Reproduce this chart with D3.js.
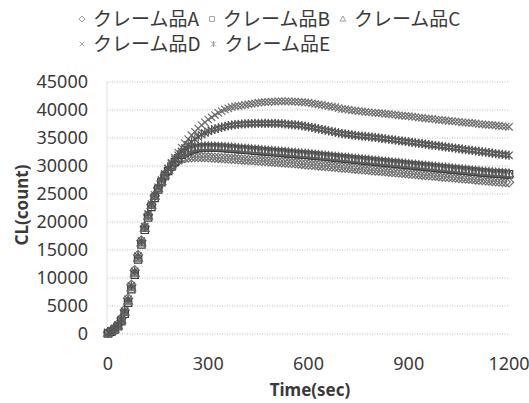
<!DOCTYPE html>
<html>
<head>
<meta charset="utf-8">
<script src="https://cdn.jsdelivr.net/npm/d3@7"></script>
<style>
  body { margin: 0; background: #fff; }
  text { font-family: "Noto Sans", "Noto Sans CJK JP", sans-serif; fill: #3a3a3a; }
</style>
</head>
<body>
<div class="canvas"></div>
<script>
// sample interval 10 sec, 0..1200
const times = d3.range(0, 1201, 10);

const seriesNames = ["クレーム品A", "クレーム品B", "クレーム品C", "クレーム品D", "クレーム品E"];

const valuesA = [
  300,600,1100,1800,2800,4300,6400,8800,11400,14100,16700,19200,21300,23100,24700,26100,27300,28300,
  29100,29800,30400,30900,31200,31400,31500,31550,31600,31600,31600,31580,31550,31520,31480,31440,31400,31360,31320,31280,31240,31200,
  31160,31120,31080,31040,31000,30960,30920,30880,30840,30800,30760,30720,30670,30620,30570,30520,30470,30420,30370,30320,30260,
  30210,30160,30100,30050,30000,29940,29890,29840,29780,29730,
  29680,29620,29570,29520,29460,29410,29360,29300,29250,29200,
  29140,29090,29040,28980,28930,28880,28820,28770,28720,28660,
  28610,28560,28500,28450,28400,28340,28290,28240,28180,28130,
  28080,28020,27970,27920,27860,27810,27760,27700,27650,27600,
  27540,27490,27440,27380,27330,27280,27220,27170,27130,27100
];
const valuesB = [
  100,400,800,1400,2300,3600,5600,8000,10600,13300,16000,18600,20800,22700,24300,25800,27100,28200,
  29100,29900,30700,31400,32000,32400,32700,32950,33100,33200,33300,33300,33300,33300,33280,33260,33230,33200,33150,33100,33050,33000,
  32950,32900,32850,32800,32750,32700,32650,32600,32550,32500,32450,32400,32350,32300,32250,32200,32150,32100,32050,32000,31950,
  31900,31850,31800,31740,31680,31620,31560,31500,31440,31380,
  31320,31260,31200,31140,31080,31020,30960,30900,30840,30780,
  30720,30660,30600,30540,30480,30420,30360,30300,30240,30180,
  30120,30060,30000,29940,29880,29820,29760,29700,29640,29580,
  29520,29460,29400,29340,29280,29220,29160,29100,29040,28980,
  28920,28860,28800,28760,28720,28680,28640,28600,28550,28500
];
const valuesC = [
  200,500,900,1500,2500,3900,5900,8300,10900,13600,16300,18900,21100,23000,24600,26000,27300,28400,
  29300,30100,30900,31600,32200,32600,32900,33150,33300,33400,33450,33480,33480,33470,33450,33420,33390,33350,33310,33270,33220,33170,
  33120,33070,33020,32970,32920,32870,32820,32770,32720,32670,32620,32570,32520,32470,32420,32370,32320,32270,32220,32170,32120,
  32060,32000,31940,31880,31820,31760,31700,31640,31580,31520,
  31460,31400,31340,31280,31220,31160,31100,31040,30980,30920,
  30860,30800,30740,30680,30620,30560,30500,30440,30380,30320,
  30260,30200,30140,30080,30020,29960,29900,29840,29780,29720,
  29660,29600,29540,29480,29420,29360,29300,29240,29180,29120,
  29060,29000,28950,28900,28850,28800,28760,28720,28680,28640
];
const valuesD = [
  200,500,900,1500,2400,3800,5800,8200,10800,13500,16200,18800,21000,22900,24500,26000,27300,28400,
  29600,30600,31500,32400,33300,34100,34800,35500,36100,36700,37300,37800,38300,38700,39100,39500,39800,40100,40300,40500,40650,40750,
  40800,40900,41000,41100,41200,41300,41350,41400,41450,41500,41500,41550,41550,41550,41550,41500,41500,41450,41400,41350,41300,
  41200,41100,41000,40900,40800,40700,40600,40500,40350,40200,
  40150,40050,39950,39900,39800,39750,39650,39600,39550,39500,
  39450,39400,39300,39250,39200,39150,39050,39000,38950,38900,
  38800,38750,38650,38600,38500,38450,38400,38300,38250,38200,
  38150,38050,38000,37950,37900,37800,37750,37700,37650,37600,
  37500,37450,37400,37350,37300,37250,37150,37100,37050,37000
];
const valuesE = [
  300,600,1000,1600,2600,4100,6200,8600,11200,13900,16600,19200,21400,23200,24800,26200,27500,28600,
  29500,30400,31200,31900,32600,33200,33800,34300,34800,35200,35600,35900,36200,36400,36600,36750,36900,37050,37200,37300,37400,37450,
  37500,37520,37550,37570,37600,37600,37600,37620,37620,37620,37600,37580,37550,37500,37450,37400,37350,37300,37200,37100,37000,
  36880,36760,36640,36520,36400,36280,36160,36040,35920,35800,
  35720,35640,35560,35480,35400,35340,35280,35220,35160,35100,
  35020,34940,34860,34780,34700,34620,34540,34460,34380,34300,
  34220,34140,34060,33980,33900,33820,33740,33660,33580,33500,
  33420,33340,33260,33180,33100,33020,32940,32860,32780,32700,
  32620,32540,32460,32380,32300,32220,32140,32060,31980,31900
];

const xTicks = [0, 300, 600, 900, 1200];
const yTicks = [0, 5000, 10000, 15000, 20000, 25000, 30000, 35000, 40000, 45000];

// marker shapes
const shapes = {
  diamond: r => `M0,${-r}L${r},0L0,${r}L${-r},0Z`,
  square: r => `M${-r*0.8},${-r*0.8}H${r*0.8}V${r*0.8}H${-r*0.8}Z`,
  triangle: r => `M0,${-r}L${r*0.95},${r*0.7}L${-r*0.95},${r*0.7}Z`,
  times: r => `M${-r*0.8},${-r*0.8}L${r*0.8},${r*0.8}M${r*0.8},${-r*0.8}L${-r*0.8},${r*0.8}`,
  asterisk: r => `M${-r*0.8},${-r*0.8}L${r*0.8},${r*0.8}M${r*0.8},${-r*0.8}L${-r*0.8},${r*0.8}M0,${-r}L0,${r}`
};

const series = [
  { name: seriesNames[0], values: valuesA, shape: "diamond", color: "#707070" },
  { name: seriesNames[1], values: valuesB, shape: "square", color: "#3c3c3c" },
  { name: seriesNames[2], values: valuesC, shape: "triangle", color: "#606060" },
  { name: seriesNames[3], values: valuesD, shape: "times", color: "#6e6e6e" },
  { name: seriesNames[4], values: valuesE, shape: "asterisk", color: "#555555" }
];

const svg = d3.select(".canvas")
  .append("svg")
    .attr("width", 529)
    .attr("height", 403);

const x = d3.scaleLinear().domain([0, 1200]).range([108, 509]);
const y = d3.scaleLinear().domain([0, 45000]).range([334, 82]);

// GRIDLINES
svg.append("g")
  .selectAll("line")
  .data(yTicks)
  .enter().append("line")
    .attr("x1", x(0) - 1)
    .attr("x2", x(1200))
    .attr("y1", d => y(d))
    .attr("y2", d => y(d))
    .attr("stroke", "#b8b8b8")
    .attr("stroke-width", 1)
    .attr("stroke-dasharray", "1,1.5");

// faint left axis
svg.append("line")
  .attr("x1", x(0) - 1).attr("x2", x(0) - 1)
  .attr("y1", y(45000)).attr("y2", y(0))
  .attr("stroke", "#e2e2e2");

// Y TICK LABELS
svg.append("g")
  .selectAll("text")
  .data(yTicks)
  .enter().append("text")
    .attr("x", 88)
    .attr("y", d => y(d))
    .attr("dy", "0.35em")
    .attr("text-anchor", "end")
    .style("font-size", "18px")
    .text(d => d);

// X TICK LABELS
svg.append("g")
  .selectAll("text")
  .data(xTicks)
  .enter().append("text")
    .attr("x", d => x(d))
    .attr("y", 364)
    .attr("dy", "0.35em")
    .attr("text-anchor", "middle")
    .style("font-size", "18px")
    .text(d => d);

// AXIS TITLES
svg.append("text")
  .attr("x", 310)
  .attr("y", 396)
  .attr("text-anchor", "middle")
  .style("font-size", "17px")
  .style("font-weight", "bold")
  .text("Time(sec)");

svg.append("text")
  .attr("transform", "translate(28,205) rotate(-90)")
  .attr("text-anchor", "middle")
  .style("font-size", "17px")
  .style("font-weight", "bold")
  .text("CL(count)");

// MARKERS
const plot = svg.append("g");
series.forEach(s => {
  plot.append("g")
    .selectAll("path")
    .data(s.values)
    .enter().append("path")
      .attr("transform", (d, i) => `translate(${x(times[i])},${y(d)})`)
      .attr("d", shapes[s.shape](4.6))
      .attr("fill", "none")
      .attr("stroke", s.color)
      .attr("stroke-width", 1.2);
});

// LEGEND
const legendRows = [[0, 1, 2], [3, 4]];
legendRows.forEach((row, ri) => {
  let cx = 82;
  const cy = 19 + ri * 25;
  row.forEach(k => {
    const s = series[k];
    svg.append("path")
      .attr("transform", `translate(${cx},${cy})`)
      .attr("d", shapes[s.shape](3))
      .attr("fill", "none")
      .attr("stroke", "#a0a0a0");
    const t = svg.append("text")
      .attr("x", cx + 11)
      .attr("y", cy)
      .attr("dy", "0.36em")
      .style("font-family", "'Noto Sans CJK JP', sans-serif")
      .style("font-size", "19px")
      .text(s.name);
    cx += 11 + t.node().getComputedTextLength() + 13;
  });
});
</script>
</body>
</html>
